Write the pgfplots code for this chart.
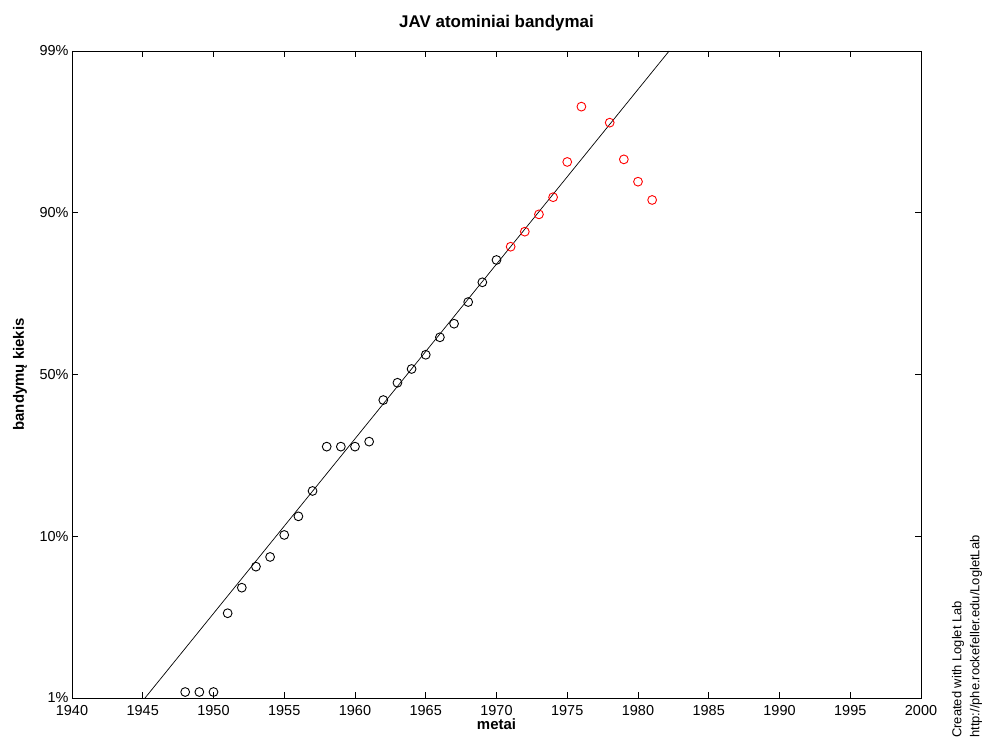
\documentclass[border=0pt]{standalone}
\usepackage{pgfplots}
\pgfplotsset{compat=1.18}
\usepackage{fontspec}
\setmainfont{Liberation Sans}
\begin{document}
\begin{tikzpicture}
\path[use as bounding box] (-72bp,-42bp) rectangle (914bp,698bp);
\begin{axis}[
  at={(0bp,0bp)}, anchor=south west,
  scale only axis, width=849bp, height=647bp,
  xmin=1940, xmax=2000, ymin=0, ymax=4,
  xtick={1940,1945,...,2000},
  ytick={0,1,2,3,4},
  yticklabels={1\%,10\%,50\%,90\%,99\%},
  tick align=inside, major tick length=6bp,
  axis line style={line width=0.8bp},
  every tick/.style={black, line width=0.8bp},
  /pgf/number format/assume math mode=true,
  /pgf/number format/1000 sep={},
  tick label style={font=\fontsize{14.5}{16}\selectfont},
  xticklabel style={yshift=-4bp},
  title={JAV atominiai bandymai},
  title style={at={(axis description cs:0.5,1.034)}, anchor=center, font=\fontsize{17}{19}\selectfont\bfseries},
  xlabel={metai},
  xlabel style={at={(axis description cs:0.5,-0.0402)}, anchor=center, font=\fontsize{15}{17}\selectfont\bfseries},
  ylabel={bandymų kiekis},
  ylabel style={at={(axis description cs:-0.0612,0.5)}, anchor=center, font=\fontsize{15}{17}\selectfont\bfseries},
]
% fitted logistic line
\addplot[black, line width=0.7bp] coordinates {(1945.16,0) (1982.2,4)};
% observed (black)
\addplot[only marks, mark=o, mark size=4.4bp, black, mark options={line width=0.9bp}] coordinates {
(1948,0.037) (1949,0.037) (1950,0.037) (1951,0.524) (1952,0.682) (1953,0.812)
(1954,0.872) (1955,1.008) (1956,1.123) (1957,1.280) (1958,1.554) (1959,1.554)
(1960,1.554) (1961,1.585) (1962,1.842) (1963,1.949) (1964,2.034) (1965,2.122)
(1966,2.230) (1967,2.314) (1968,2.448) (1969,2.570) (1970,2.708)
};
% later (red)
\addplot[only marks, mark=o, mark size=4.4bp, red, mark options={line width=0.9bp}] coordinates {
(1971,2.790) (1972,2.883) (1973,2.990) (1974,3.096) (1975,3.314) (1976,3.656)
(1978,3.557) (1979,3.330) (1980,3.192) (1981,3.079)
};
\end{axis}
\node[rotate=90, anchor=west, inner sep=0pt, font=\fontsize{13}{15}\selectfont] at (886bp,-40bp) {Created with Loglet Lab};
\node[rotate=90, anchor=west, inner sep=0pt, font=\fontsize{13}{15}\selectfont] at (904bp,-40bp) {http://phe.rockefeller.edu/LogletLab};
\end{tikzpicture}
\end{document}
